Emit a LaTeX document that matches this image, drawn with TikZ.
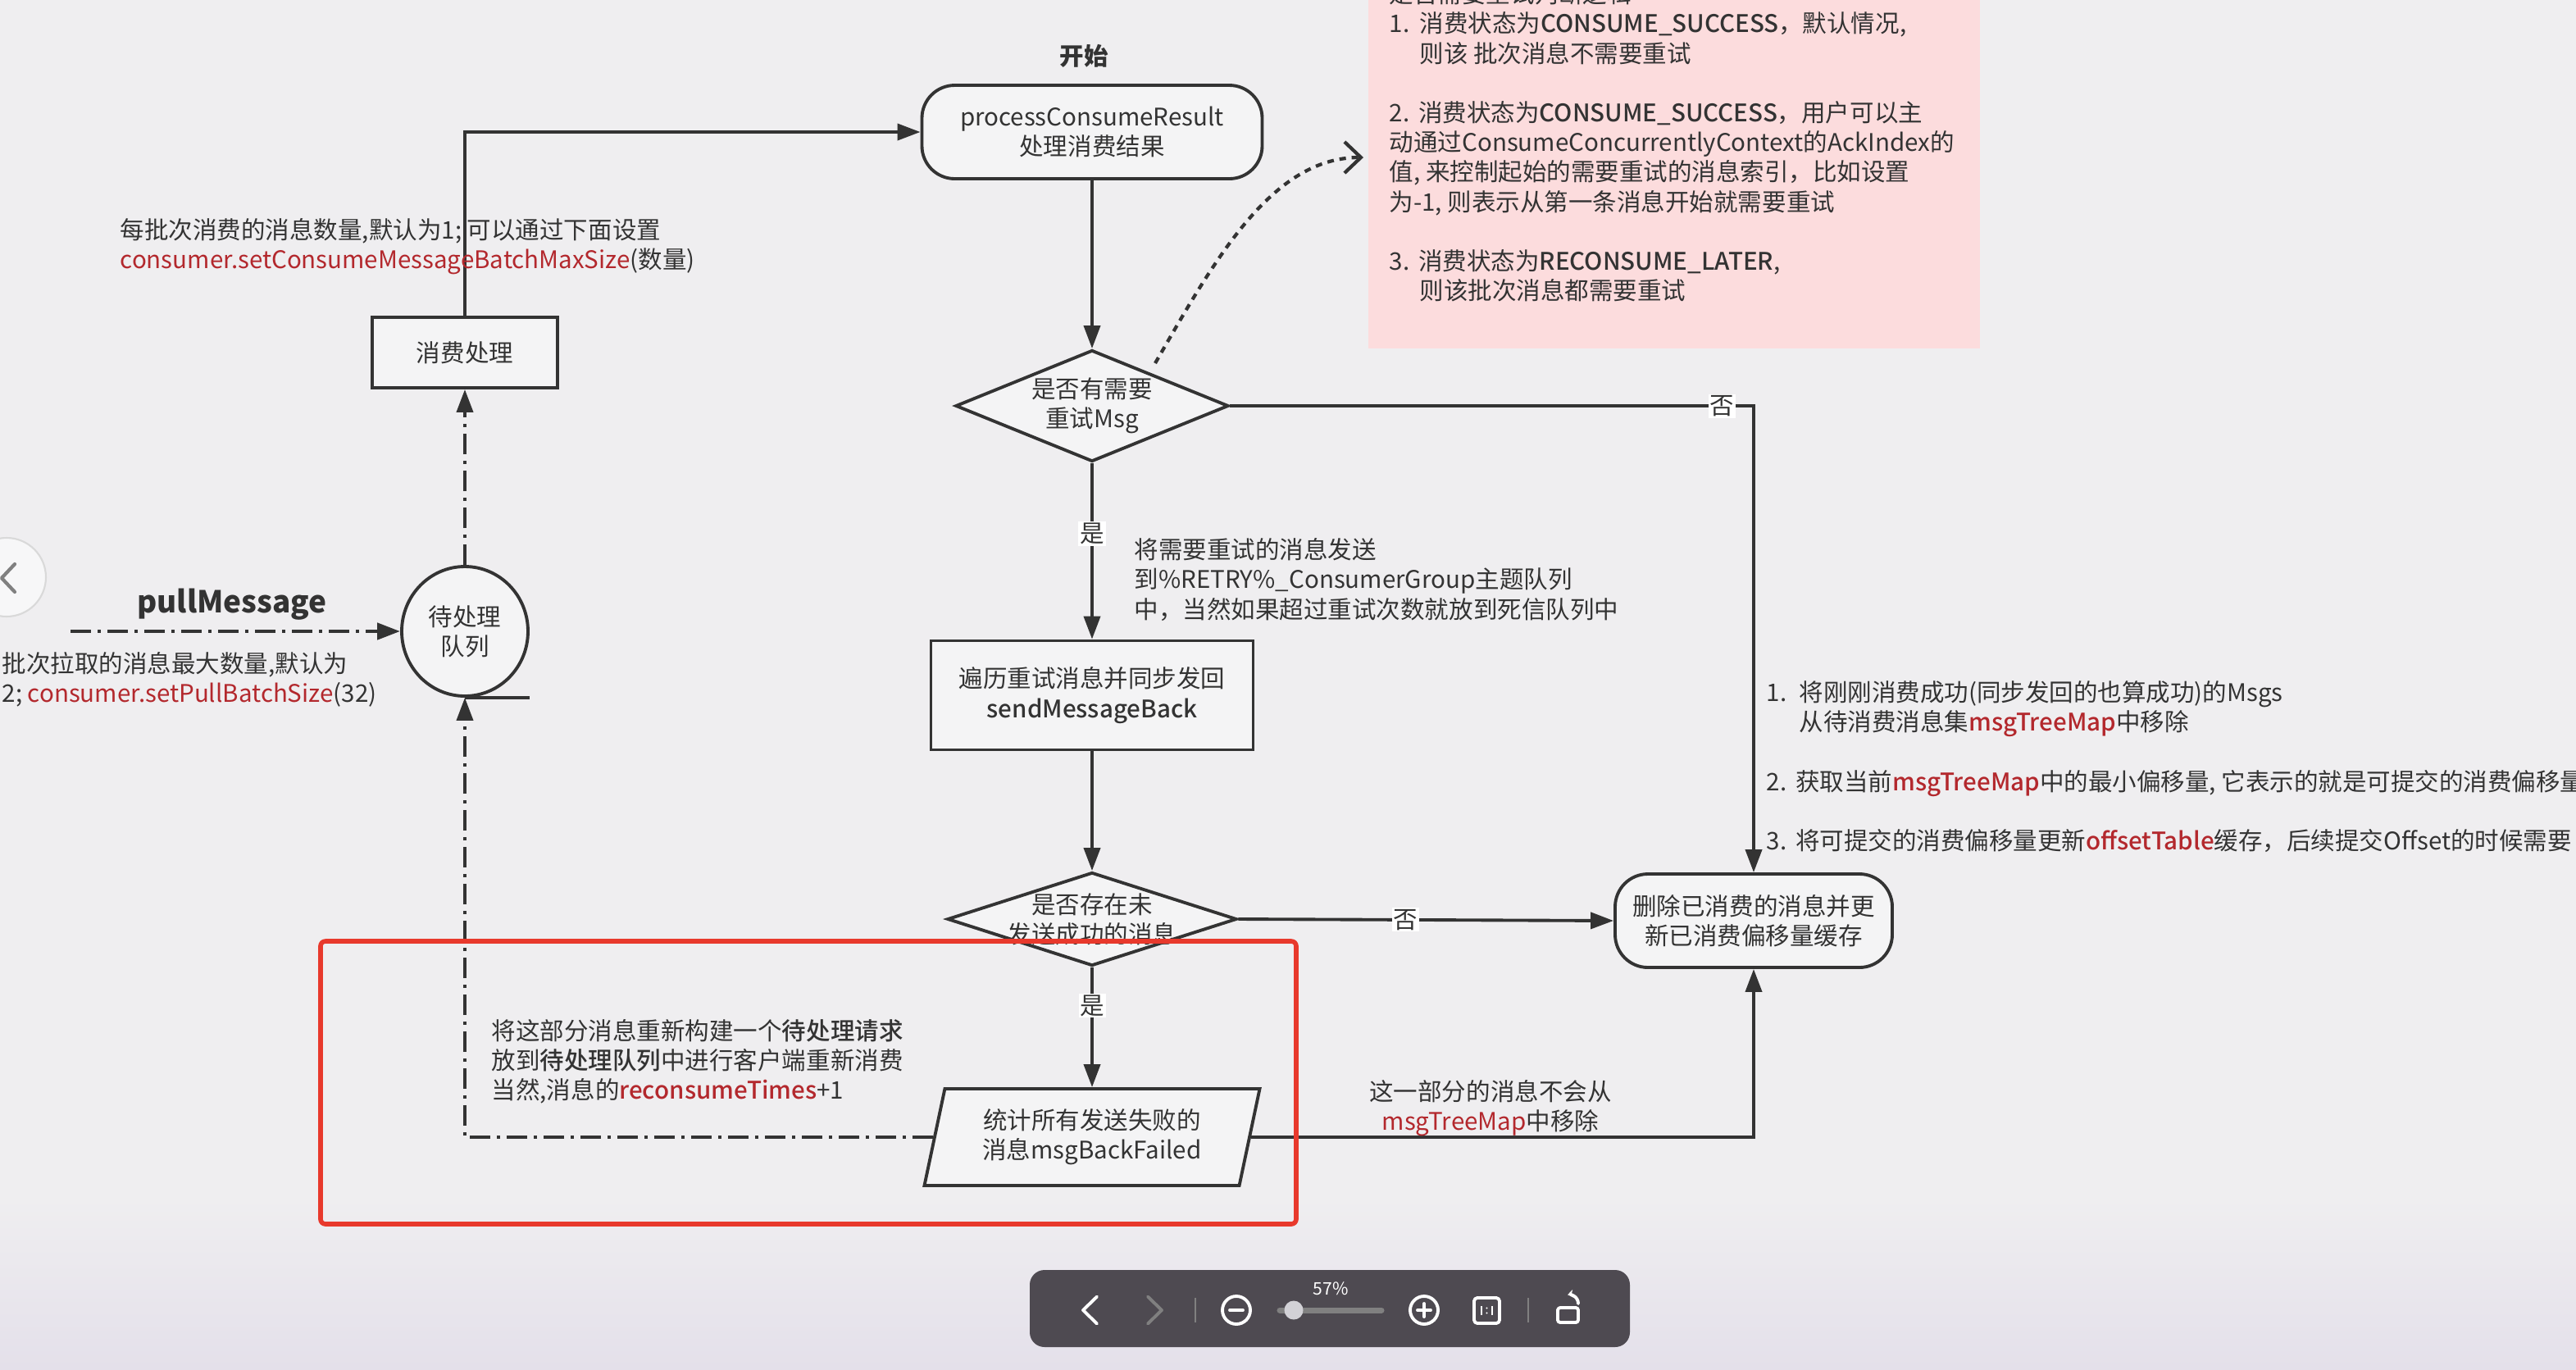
\documentclass[tikz,border=0pt]{standalone}
\usepackage{fontspec}
\setmainfont{Noto Sans CJK SC}[BoldFont={Noto Sans CJK SC Medium}]
\newfontfamily\heavyfont{Noto Sans CJK SC}
\usetikzlibrary{arrows.meta,shapes.geometric,positioning}
\definecolor{bgc}{HTML}{EFEEF0}
\definecolor{lavbg}{HTML}{E4E0EA}
\definecolor{ink}{HTML}{333333}
\definecolor{boxfill}{HTML}{F4F4F5}
\definecolor{notepink}{HTML}{FCDCDD}
\definecolor{codered}{HTML}{B3282D}
\definecolor{markred}{HTML}{E8392C}
\definecolor{barc}{HTML}{4E4A51}
\definecolor{knobc}{HTML}{D2D1D6}
\definecolor{btnc}{HTML}{F7F7F8}
\newcommand{\code}[1]{\textcolor{codered}{#1}}
\newcommand{\codeb}[1]{\textcolor{codered}{\bfseries #1}}
\tikzset{
  every node/.style={font=\fontsize{8.4}{10.3}\selectfont, text=ink},
  flowline/.style={draw=ink, line width=1.1pt},
  arr/.style={flowline, -{Triangle[length=0.28cm,width=0.2cm]}},
  dashdot/.style={arr, dash pattern=on 0.25cm off 0.08cm on 0.04cm off 0.08cm},
  terminal/.style={draw=ink, line width=1.1pt, fill=boxfill, rounded corners=0.4cm, align=center, inner sep=0pt},
  procbox/.style={draw=ink, line width=1.1pt, fill=boxfill, align=center, inner sep=0pt},
  decision/.style={diamond, draw=ink, line width=1.1pt, fill=boxfill, inner sep=0pt},
  yesno/.style={fill=white, inner sep=0.5pt},
  note/.style={align=left, anchor=west, inner sep=0pt},
  baricon/.style={draw=white, line width=1.1pt, line cap=round, line join=round},
}
\begin{document}
\begin{tikzpicture}
  % page and background
  \useasboundingbox (0,0) rectangle (31.42,-16.70);
  \fill[bgc] (0,0) rectangle (31.42,-16.70);
  \shade[top color=bgc, bottom color=lavbg] (0,-14.6) rectangle (31.42,-16.70);

  % pink remark
  \fill[notepink] (16.69,0.05) rectangle (24.15,-4.25);
  \node[note] (retryRule) at (16.94,-1.735) {是否需要重试判断逻辑\\
    \makebox[1.25em][l]{1.}消费状态为\textbf{CONSUME\_SUCCESS}，默认情况,\\
    \hspace*{1.25em}则该 批次消息不需要重试\\[10.3pt]
    \makebox[1.2em][l]{2.}消费状态为\textbf{CONSUME\_SUCCESS}，用户可以主\\
    动通过ConsumeConcurrentlyContext的AckIndex的\\
    值, 来控制起始的需要重试的消息索引，比如设置\\
    为-1, 则表示从第一条消息开始就需要重试\\[10.3pt]
    \makebox[1.2em][l]{3.}消费状态为\textbf{RECONSUME\_LATER},\\
    \hspace*{1.25em}则该批次消息都需要重试};

  % flow nodes
  \node[font=\fontsize{8.4}{10.3}\selectfont\heavyfont\bfseries] (title) at (13.22,-0.68) {开始};
  \node[terminal, minimum width=4.15cm, minimum height=1.14cm] (start) at (13.32,-1.61) {processConsumeResult\\处理消费结果};
  \node[decision, minimum width=3.33cm, minimum height=1.36cm] (chk1) at (13.32,-4.95) {};
  \node[align=center] (chk1txt) at (chk1) {是否有需要\\重试Msg};
  \node[procbox, minimum width=3.93cm, minimum height=1.33cm] (send) at (13.32,-8.48) {遍历重试消息并同步发回\\\textbf{sendMessageBack}};
  \node[decision, minimum width=3.53cm, minimum height=1.14cm] (chk2) at (13.32,-11.21) {};
  \node[align=center] (chk2txt) at (chk2) {是否存在未\\发送成功的消息};
  \node[trapezium, trapezium left angle=70, trapezium right angle=110, trapezium stretches body,
        draw=ink, line width=1.1pt, fill=boxfill, align=center, inner sep=0pt,
        minimum width=4.09cm, minimum height=1.18cm] (failed) at (13.32,-13.87) {统计所有发送失败的\\消息msgBackFailed};
  \node[terminal, minimum width=3.38cm, minimum height=1.14cm] (upd) at (21.39,-11.23) {删除已消费的消息并更\\新已消费偏移量缓存};
  \node[ellipse, draw=ink, line width=1.1pt, fill=boxfill, align=center, inner sep=0pt,
        minimum width=1.54cm, minimum height=1.58cm] (queue) at (5.67,-7.70) {待处理\\队列};
  \node[procbox, minimum width=2.26cm, minimum height=0.86cm] (consume) at (5.67,-4.30) {消费处理};

  % connectors
  \draw[arr] (consume.north) |- (start.west);
  \draw[arr] (start.south) -- (chk1.north);
  \draw[arr] (chk1.south) -- node[yesno, pos=0.4] {是} (send.north);
  \draw[arr] (send.south) -- (chk2.north);
  \draw[arr] (chk2.south) -- node[yesno, pos=0.32] {是} (failed.north);
  \draw[arr] (chk2.east) -- node[yesno, pos=0.445] {否} (upd.west);
  \draw[arr] (chk1.east) -| node[yesno, pos=0.47] {否} (upd.north);
  \draw[arr] (failed.east) -| (upd.south);
  \draw[dashdot] (failed.west) -| (queue.south);
  \draw[dashdot] (queue.north) -- (consume.south);
  \draw[flowline] (queue.south) -- ++(0.79,0);
  \coordinate (pullFrom) at (0.86,-7.70);
  \draw[dashdot, line width=1.3pt] (pullFrom) -- node[pos=0.49, yshift=0.33cm, font=\fontsize{10.5}{12}\selectfont\heavyfont\bfseries] (pullLbl) {pullMessage} (queue.west);
  \coordinate (retryOut) at (14.09,-4.43);
  \coordinate (noteIn) at (16.63,-1.92);
  \draw[ink, line width=1.2pt, dash pattern=on 0.08cm off 0.07cm, -{Straight Barb[length=0.2cm,width=0.38cm]}]
    (retryOut) .. controls (14.8,-3.2) and (15.5,-1.92) .. (noteIn);

  % remarks
  \node[note] (batchNote) at (1.46,-3.01) {每批次消费的消息数量,默认为1; 可以通过下面设置\\\code{consumer.setConsumeMessageBatchMaxSize}(数量)};
  \node[note] (pullNote) at (0.02,-8.29) {批次拉取的消息最大数量,默认为\\2; \code{consumer.setPullBatchSize}(32)};
  \node[note] (retryNote) at (13.83,-7.07) {将需要重试的消息发送\\到\%RETRY\%\_ConsumerGroup主题队列\\中，当然如果超过重试次数就放到死信队列中};
  \node[note] (offsetSteps) at (21.54,-9.35) {\makebox[1.35em][l]{1.}将刚刚消费成功(同步发回的也算成功)的Msgs\\
    \hspace*{1.35em}从待消费消息集\codeb{msgTreeMap}中移除\\[10.3pt]
    \makebox[1.2em][l]{2.}获取当前\codeb{msgTreeMap}中的最小偏移量, 它表示的就是可提交的消费偏移量\\[10.3pt]
    \makebox[1.2em][l]{3.}将可提交的消费偏移量更新\codeb{offsetTable}缓存，后续提交Offset的时候需要};
  \node[align=center] (keepNote) at (18.18,-13.52) {这一部分的消息不会从\\\code{msgTreeMap}中移除};
  \node[note] (resendNote) at (5.99,-12.95) {将这部分消息重新构建一个\textbf{待处理请求}\\放到\textbf{待处理队列}中进行客户端重新消费\\当然,消息的\codeb{reconsumeTimes}+1};

  % red highlight
  \draw[markred, line width=1.6pt, rounded corners=0.06cm] (3.91,-11.48) rectangle (15.81,-14.93);

  % side button
  \filldraw[fill=btnc, draw=black!15, line width=0.6pt] (0.08,-7.04) circle (0.48);
  \draw[gray, line width=1.2pt, line cap=round, line join=round] (0.18,-6.88) -- (0.02,-7.05) -- (0.18,-7.22);

  % viewer toolbar
  \fill[barc, rounded corners=0.18cm] (12.56,-15.49) rectangle (19.88,-16.43);
  \node[text=white, font=\fontsize{6}{7}\selectfont] (zoomPct) at (16.23,-15.72) {57\%};
  \draw[baricon] (13.38,-15.815) -- (13.21,-15.98) -- (13.38,-16.145);
  \draw[baricon, draw=gray] (14.00,-15.815) -- (14.17,-15.98) -- (14.00,-16.145);
  \draw[gray, line width=0.5pt] (14.58,-15.83) -- (14.58,-16.13);
  \draw[baricon] (15.08,-15.98) circle (0.17);
  \draw[baricon] (15.00,-15.98) -- (15.16,-15.98);
  \draw[line width=2pt, line cap=round, draw=gray] (15.61,-15.98) -- (16.85,-15.98);
  \fill[knobc] (15.78,-15.98) circle (0.115);
  \draw[baricon] (17.37,-15.98) circle (0.17);
  \draw[baricon] (17.29,-15.98) -- (17.45,-15.98) (17.37,-15.90) -- (17.37,-16.06);
  \draw[baricon, rounded corners=0.04cm] (17.98,-15.83) rectangle (18.29,-16.14);
  \draw[white, line width=0.7pt] (18.07,-15.93) -- (18.07,-16.04) (18.20,-15.93) -- (18.20,-16.04);
  \fill[white] (18.135,-15.955) circle (0.012) (18.135,-16.015) circle (0.012);
  \draw[gray, line width=0.5pt] (18.64,-15.83) -- (18.64,-16.13);
  \draw[baricon, rounded corners=0.03cm] (19.00,-15.95) rectangle (19.25,-16.13);
  \draw[baricon, -{Stealth[length=0.07cm,width=0.1cm]}] (19.25,-15.90) arc[start angle=0, end angle=100, radius=0.11];
\end{tikzpicture}
\end{document}
